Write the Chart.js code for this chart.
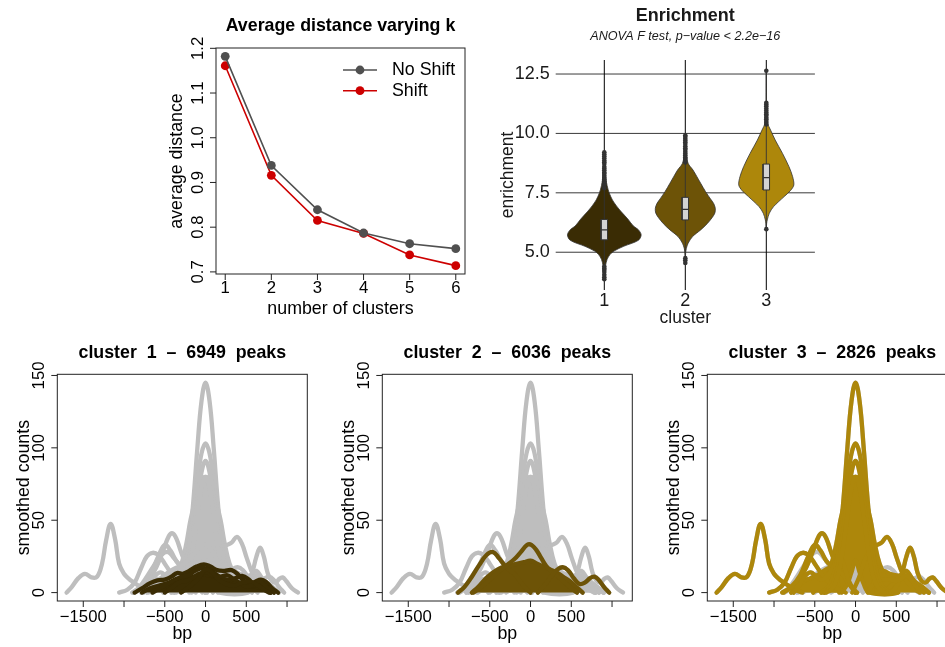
<!DOCTYPE html>
<html lang="en">
<head>
<meta charset="UTF-8" />
<title>Peak clustering</title>
<script src="https://cdn.jsdelivr.net/npm/chart.js"></script>
<style>
  html, body { margin: 0; padding: 0; background: #fff; overflow: hidden; }
  body { width: 945px; height: 647px; position: relative; }
  canvas { position: absolute; left: 0; top: 0; }
</style>
</head>
<body>
<canvas id="kChart" width="975" height="647"></canvas>
<canvas id="violinChart" width="975" height="647"></canvas>
<canvas id="profile1" width="975" height="647"></canvas>
<canvas id="profile2" width="975" height="647"></canvas>
<canvas id="profile3" width="975" height="647"></canvas>

<script>
// ---- average distance vs k ----
const kValues = [1, 2, 3, 4, 5, 6];
const distNoShift = [1.182, 0.938, 0.839, 0.787, 0.763, 0.752];
const distShift = [1.161, 0.916, 0.815, 0.786, 0.738, 0.714];
const distTicks = [0.7, 0.8, 0.9, 1.0, 1.1, 1.2];
const distTickLabels = ['0.7', '0.8', '0.9', '1.0', '1.1', '1.2'];

// ---- enrichment violins ----
const clusterIds = [1, 2, 3];
const clusterTickLabels = ['1', '2', '3'];
const enrichTicks = [5, 7.5, 10, 12.5];
const enrichTickLabels = ['5.0', '7.5', '10.0', '12.5'];

// density outline: enrichment level and half width
const violin1Levels = [3.85, 4.2, 4.45, 4.7, 4.9, 5.05, 5.25, 5.5, 5.73, 5.95, 6.1, 6.4, 6.7, 6.95, 7.2, 7.5, 7.8, 8.1, 8.6, 9.2];
const violin1Widths = [0, 0.008, 0.016, 0.035, 0.07, 0.12, 0.24, 0.42, 0.455, 0.42, 0.36, 0.29, 0.21, 0.15, 0.1, 0.06, 0.035, 0.02, 0.008, 0];
const violin2Levels = [4.5, 4.95, 5.15, 5.38, 5.66, 5.94, 6.2, 6.45, 6.65, 6.85, 7.05, 7.25, 7.55, 7.9, 8.2, 8.46, 8.74, 9.2, 9.9];
const violin2Widths = [0, 0.004, 0.012, 0.035, 0.09, 0.19, 0.27, 0.33, 0.365, 0.37, 0.35, 0.31, 0.25, 0.19, 0.14, 0.095, 0.035, 0.01, 0];
const violin3Levels = [5.95, 6.2, 6.36, 6.64, 6.92, 7.34, 7.6, 7.83, 8.18, 8.6, 9.16, 9.72, 10.14, 10.43, 10.8, 12.65];
const violin3Widths = [0, 0.004, 0.012, 0.037, 0.09, 0.22, 0.3, 0.34, 0.325, 0.28, 0.2, 0.11, 0.053, 0.015, 0.004, 0];

const boxQ1 = [5.52, 6.36, 7.62];
const boxMedian = [5.94, 6.80, 8.14];
const boxQ3 = [6.38, 7.31, 8.71];
const whiskerLow = [4.42, 4.9, 6.0];
const whiskerHigh = [7.66, 8.75, 10.34];
const outliers1 = [7.69, 7.75, 7.84, 7.9, 7.99, 8.07, 8.13, 8.22, 8.3, 8.36, 8.45, 8.52, 8.6, 8.71, 8.79, 8.86, 8.95, 9.04, 9.12, 9.21, 4.4, 4.32, 4.25, 4.17, 4.05, 3.95, 3.86];
const outliers2 = [8.78, 8.85, 8.93, 9.0, 9.08, 9.15, 9.23, 9.31, 9.38, 9.46, 9.55, 9.63, 9.7, 9.78, 9.86, 9.92, 4.75, 4.66, 4.55];
const outliers3 = [10.38, 10.45, 10.52, 10.6, 10.66, 10.74, 10.81, 10.88, 10.96, 11.05, 11.14, 11.22, 11.29, 12.64, 5.97];

// ---- smoothed count profiles, [bp, counts] ----
const peakCounts = [6949, 6036, 2826];
const profileXTicks = [-1500, -1000, -500, 0, 500, 1000];
const profileXLabels = ['\u22121500', '', '\u2212500', '0', '500', ''];
const profileYTicks = [0, 50, 100, 150];
const profileYLabels = ['0', '50', '100', '150'];

// bands: outlines of areas where many profiles overlap
const c1Band = [[-780, 0], [-680, 3], [-560, 5], [-440, 7], [-320, 8.5], [-200, 10], [-90, 12], [0, 12.5], [100, 11], [220, 9], [340, 8], [460, 6], [580, 4.5], [700, 3], [800, 0]];
const c1Profiles = [
  [[-870, 0], [-780, 3], [-680, 6.5], [-590, 8.5], [-500, 9], [-420, 11], [-350, 13.5], [-280, 13], [-200, 15], [-110, 18], [-20, 19.5], [60, 18], [140, 15.5], [230, 15], [320, 15.5], [400, 12.5], [470, 8], [540, 6], [610, 7.5], [680, 9], [750, 7], [820, 3], [890, 0]],
  [[-650, 0], [-560, 3], [-470, 6], [-380, 9], [-290, 11], [-210, 12], [-130, 15], [-40, 17], [40, 16], [120, 13], [200, 10], [290, 9], [370, 10], [450, 11.5], [530, 9], [600, 5], [680, 5.5], [760, 4], [840, 0]],
  [[-500, 0], [-420, 3], [-330, 7], [-240, 8], [-160, 10], [-80, 13], [10, 14], [90, 12], [180, 11], [270, 12], [350, 9], [440, 6], [520, 4], [590, 6], [660, 8], [730, 5], [800, 0]],
  [[-300, 0], [-200, 4], [-100, 9], [0, 16], [80, 14], [160, 9], [250, 6], [350, 5], [460, 7], [560, 7.5], [640, 5], [720, 2], [780, 0]]
];

const c2Band = [[-720, 0], [-640, 4], [-560, 9], [-480, 13], [-400, 16], [-320, 18], [-240, 19], [-160, 20], [-80, 21], [0, 22], [80, 20], [160, 18], [240, 16], [320, 14], [400, 11], [480, 8], [560, 4], [640, 0]];
const c2Profiles = [
  [[-890, 0], [-810, 4], [-720, 11], [-630, 19], [-540, 26], [-460, 28], [-390, 24], [-320, 19], [-270, 16], [-200, 13], [-130, 8], [-60, 3], [0, 0]],
  [[-700, 0], [-600, 4], [-480, 10], [-380, 15], [-290, 19], [-200, 23], [-120, 28], [-40, 33], [10, 33], [70, 29.5], [130, 24], [190, 18.5], [250, 15], [320, 12], [400, 8], [480, 4], [570, 0]],
  [[90, 0], [170, 5], [250, 11], [320, 15.5], [395, 17.5], [460, 15.5], [530, 10], [600, 6], [670, 7], [730, 10], [785, 11], [840, 8.5], [900, 4], [965, 0]]
];

const c3BandTop = [[-520, 0], [-440, 5], [-370, 11], [-295, 20], [-235, 34], [-185, 50], [-115, 66], [-50, 78], [0, 80], [50, 78], [115, 66], [185, 50], [235, 34], [295, 20], [370, 11], [440, 5], [520, 0]];
const c3BandHole = [[170, 0], [100, 6], [50, 14], [0, 22], [-50, 14], [-100, 6], [-170, 0]];
const c3LeftBand = [[-790, 0], [-710, 4], [-630, 8], [-550, 10], [-470, 12], [-390, 15], [-310, 17], [-240, 12], [-200, 0]];
const c3RightBand = [[200, 0], [260, 14], [340, 15], [420, 13], [500, 12], [580, 11], [660, 10], [740, 7], [820, 4], [900, 0]];
const c3Profiles = [
  [[-1705, 0], [-1640, 4], [-1560, 10], [-1480, 13], [-1400, 10.5], [-1330, 11], [-1270, 20], [-1220, 36], [-1165, 47.5], [-1110, 37], [-1060, 20], [-1000, 13], [-940, 9.5], [-880, 7], [-800, 4], [-720, 1.5], [-650, 0]],
  [[-1060, 0], [-960, 2], [-870, 7], [-790, 17], [-720, 25], [-650, 27.5], [-580, 26], [-500, 20], [-430, 14], [-360, 9], [-280, 5], [-200, 2], [-120, 0]],
  [[-880, 0], [-780, 4], [-680, 10], [-600, 18], [-520, 29], [-450, 39], [-405, 41], [-355, 37], [-300, 28], [-250, 21], [-190, 16], [-120, 10], [-50, 4], [20, 0]],
  [[-900, 0], [-790, 4], [-680, 12], [-580, 25], [-500, 33], [-430, 29], [-360, 22], [-290, 18], [-220, 16], [-150, 12], [-80, 6], [0, 0]],
  [[-760, 0], [-680, 6], [-610, 12], [-550, 14], [-480, 11], [-410, 9], [-340, 12], [-270, 18], [-210, 26], [-150, 20], [-80, 8], [0, 0]],
  [[-40, 0], [40, 10], [110, 22], [180, 29], [250, 32.5], [320, 34.5], [385, 38.5], [445, 34], [505, 24], [570, 14], [640, 7], [710, 3], [790, 0]],
  [[440, 0], [510, 5], [570, 13], [625, 25], [670, 31], [715, 25], [760, 14], [810, 8], [860, 7], [905, 9.5], [945, 10.5], [990, 8], [1060, 3], [1135, 0]],
  [[330, 0], [420, 4], [500, 9], [570, 13], [625, 15], [680, 11], [750, 6], [830, 2], [900, 0]],
  [[150, 0], [250, 8], [330, 9], [420, 9], [500, 8], [560, 9.5], [620, 12], [680, 9], [760, 3], [840, 0]],
  [[-400, 0], [-330, 2.7], [-270, 9], [-210, 28], [-150, 63], [-100, 100], [-50, 132], [0, 145], [50, 132], [100, 100], [150, 63], [210, 28], [270, 9], [330, 2.7], [400, 0]],
  [[-420, 0], [-350, 3], [-300, 7], [-250, 16], [-200, 32], [-150, 53], [-100, 77], [-50, 96], [0, 103], [50, 96], [100, 77], [150, 53], [200, 32], [250, 16], [300, 7], [350, 3], [420, 0]],
  [[-380, 0], [-300, 4], [-250, 10], [-200, 23], [-150, 42], [-100, 64], [-50, 83], [0, 91], [50, 83], [100, 64], [150, 42], [200, 23], [250, 10], [300, 4], [380, 0]],
  [[-360, 0], [-300, 2], [-250, 6], [-200, 15], [-150, 32], [-100, 53], [-50, 72], [0, 80], [50, 72], [100, 53], [150, 32], [200, 15], [250, 6], [300, 2], [360, 0]]
];

// ---- styling ----
const FONT = '"Liberation Sans", Arial, Helvetica, sans-serif';
const clusterColors = ['#3a2c04', '#6d5307', '#ad870b'];
const profileGray = '#bebebe';
const CANVAS_W = 975, CANVAS_H = 647;

// R base-graphics style frame: box, ticks, labels, titles, optional grid and legend
const rFrame = {
  id: 'rFrame',
  beforeDatasetsDraw(chart, args, o) {
    if (!o.grid) return;
    const { ctx, chartArea: a, scales: { x, y } } = chart;
    ctx.save();
    ctx.lineWidth = 1;
    ctx.strokeStyle = o.grid.yColor;
    o.grid.y.forEach(v => {
      const py = y.getPixelForValue(v);
      ctx.beginPath(); ctx.moveTo(a.left, py); ctx.lineTo(a.right, py); ctx.stroke();
    });
    ctx.strokeStyle = o.grid.xColor;
    o.grid.x.forEach(v => {
      const px = x.getPixelForValue(v);
      ctx.beginPath(); ctx.moveTo(px, a.top); ctx.lineTo(px, a.bottom); ctx.stroke();
    });
    ctx.restore();
  },
  afterDatasetsDraw(chart, args, o) {
    const { ctx, chartArea: a, scales: { x, y } } = chart;
    const midX = (a.left + a.right) / 2, midY = (a.top + a.bottom) / 2;
    ctx.save();
    ctx.lineWidth = 1;
    ctx.strokeStyle = o.lineColor;
    ctx.fillStyle = o.textColor;
    if (o.box) ctx.strokeRect(a.left, a.top, a.right - a.left, a.bottom - a.top);

    ctx.font = o.tickFont;
    ctx.textBaseline = 'middle';
    o.xTicks.forEach((v, i) => {
      const px = x.getPixelForValue(v);
      if (o.tickLength) {
        ctx.beginPath(); ctx.moveTo(px, a.bottom); ctx.lineTo(px, a.bottom + o.tickLength); ctx.stroke();
      }
      if (o.xLabels[i]) {
        ctx.textAlign = 'center';
        ctx.fillText(o.xLabels[i], px, a.bottom + o.xLabelGap);
      }
    });
    o.yTicks.forEach((v, i) => {
      const py = y.getPixelForValue(v);
      if (o.tickLength) {
        ctx.beginPath(); ctx.moveTo(a.left, py); ctx.lineTo(a.left - o.tickLength, py); ctx.stroke();
      }
      if (o.rotateY) {
        ctx.save();
        ctx.translate(a.left - o.yLabelGap, py);
        ctx.rotate(-Math.PI / 2);
        ctx.textAlign = 'center';
        ctx.fillText(o.yLabels[i], 0, 0);
        ctx.restore();
      } else {
        ctx.textAlign = 'right';
        ctx.fillText(o.yLabels[i], a.left - o.yLabelGap, py);
      }
    });

    ctx.font = o.labelFont;
    ctx.textAlign = 'center';
    ctx.fillText(o.xTitle, midX, a.bottom + o.xTitleGap);
    ctx.save();
    ctx.translate(a.left - o.yTitleGap, midY);
    ctx.rotate(-Math.PI / 2);
    ctx.fillText(o.yTitle, 0, 0);
    ctx.restore();

    ctx.textBaseline = 'alphabetic';
    ctx.font = o.titleFont;
    ctx.fillText(o.title, midX, a.top - o.titleGap);
    if (o.subtitle) {
      ctx.font = o.subtitleFont;
      ctx.fillText(o.subtitle, midX, a.top - o.subtitleGap);
    }

    if (o.legend) {
      const L = o.legend;
      chart.data.datasets.forEach((ds, i) => {
        const ly = L.y[i];
        ctx.strokeStyle = ds.borderColor;
        ctx.fillStyle = ds.borderColor;
        ctx.lineWidth = ds.borderWidth;
        ctx.beginPath(); ctx.moveTo(L.x0, ly); ctx.lineTo(L.x1, ly); ctx.stroke();
        ctx.beginPath(); ctx.arc((L.x0 + L.x1) / 2, ly, ds.pointRadius, 0, Math.PI * 2); ctx.fill();
        ctx.fillStyle = o.textColor;
        ctx.font = o.labelFont;
        ctx.textAlign = 'left';
        ctx.textBaseline = 'middle';
        ctx.fillText(ds.label, L.textX, ly);
      });
    }
    ctx.restore();
  }
};

function padFor(left, top, right, bottom) {
  return { left, top, right: CANVAS_W - right, bottom: CANVAS_H - bottom };
}

const baseOptions = {
  responsive: false,
  animation: false,
  events: [],
  devicePixelRatio: 1
};

// ---- average distance chart ----
function distSeries(label, values, color) {
  return {
    label,
    data: kValues.map((k, i) => ({ x: k, y: values[i] })),
    showLine: true,
    borderColor: color,
    backgroundColor: color,
    borderWidth: 1.6,
    pointRadius: 4.4,
    pointBorderWidth: 0,
    pointBackgroundColor: color,
    tension: 0
  };
}

new Chart(document.getElementById('kChart'), {
  type: 'scatter',
  data: {
    datasets: [
      distSeries('No Shift', distNoShift, '#505050'),
      distSeries('Shift', distShift, '#cd0000')
    ]
  },
  options: {
    ...baseOptions,
    layout: { padding: padFor(216, 48, 465, 274) },
    scales: {
      x: { type: 'linear', min: 0.8, max: 6.2, display: false },
      y: { type: 'linear', min: 0.6953, max: 1.2007, display: false }
    },
    plugins: {
      legend: { display: false },
      tooltip: { enabled: false },
      rFrame: {
        box: true, tickLength: 6, lineColor: '#222', textColor: '#000',
        xTicks: kValues, xLabels: kValues.map(String),
        yTicks: distTicks, yLabels: distTickLabels, rotateY: true,
        tickFont: `16.7px ${FONT}`, labelFont: `17.8px ${FONT}`, titleFont: `bold 17.8px ${FONT}`,
        xLabelGap: 14, yLabelGap: 17.7, xTitleGap: 35.5, yTitleGap: 39, titleGap: 17,
        xTitle: 'number of clusters', yTitle: 'average distance', title: 'Average distance varying k',
        legend: { x0: 343, x1: 377, textX: 392, y: [70, 90.7] }
      }
    }
  },
  plugins: [rFrame]
});

// ---- violin chart ----
const BOX_HALF = 0.04;
const violinLevels = [violin1Levels, violin2Levels, violin3Levels];
const violinWidths = [violin1Widths, violin2Widths, violin3Widths];
const outlierSets = [outliers1, outliers2, outliers3];

function shapeSet(points, fillColor, lineColor, lineWidth, tension) {
  return {
    data: points,
    showLine: true,
    borderColor: lineColor,
    backgroundColor: fillColor,
    borderWidth: lineWidth,
    pointRadius: 0,
    tension,
    fill: fillColor ? 'shape' : false
  };
}

const violinSets = [];
clusterIds.forEach((c, i) => {
  const lv = violinLevels[i], w = violinWidths[i];
  const left = lv.map((y, j) => ({ x: c - w[j], y }));
  const right = lv.map((y, j) => ({ x: c + w[j], y })).reverse();
  violinSets.push(shapeSet(left.concat(right), clusterColors[i], '#333', 0.8, 0.3));
});
clusterIds.forEach((c, i) => {
  violinSets.push(shapeSet([{ x: c, y: whiskerLow[i] }, { x: c, y: boxQ1[i] }], null, '#333', 0.9, 0));
  violinSets.push(shapeSet([{ x: c, y: boxQ3[i] }, { x: c, y: whiskerHigh[i] }], null, '#333', 0.9, 0));
  violinSets.push(shapeSet([
    { x: c - BOX_HALF, y: boxQ1[i] }, { x: c + BOX_HALF, y: boxQ1[i] },
    { x: c + BOX_HALF, y: boxQ3[i] }, { x: c - BOX_HALF, y: boxQ3[i] },
    { x: c - BOX_HALF, y: boxQ1[i] }
  ], '#d3d3d3', '#333', 1, 0));
  violinSets.push(shapeSet([{ x: c - BOX_HALF, y: boxMedian[i] }, { x: c + BOX_HALF, y: boxMedian[i] }], null, '#333', 1.2, 0));
  violinSets.push({
    data: outlierSets[i].map(v => ({ x: c, y: v })),
    showLine: false,
    pointRadius: 2.3,
    pointBorderWidth: 0,
    pointBackgroundColor: '#333'
  });
});

new Chart(document.getElementById('violinChart'), {
  type: 'scatter',
  // first dataset ends up at the bottom of the stack
  data: { datasets: violinSets.slice().reverse() },
  options: {
    ...baseOptions,
    layout: { padding: padFor(555.7, 60, 814.9, 290) },
    scales: {
      x: { type: 'linear', min: 0.4, max: 3.6, display: false },
      y: { type: 'linear', min: 3.41, max: 13.09, display: false }
    },
    plugins: {
      legend: { display: false },
      tooltip: { enabled: false },
      rFrame: {
        box: false, tickLength: 0, lineColor: '#222', textColor: '#1a1a1a',
        grid: { x: clusterIds, y: enrichTicks, xColor: '#000', yColor: '#3a3a3a' },
        xTicks: clusterIds, xLabels: clusterTickLabels,
        yTicks: enrichTicks, yLabels: enrichTickLabels, rotateY: false,
        tickFont: `18px ${FONT}`, labelFont: `17.5px ${FONT}`, titleFont: `bold 18px ${FONT}`,
        subtitleFont: `italic 12.6px ${FONT}`,
        xLabelGap: 11, yLabelGap: 6, xTitleGap: 28, yTitleGap: 47.7, titleGap: 39, subtitleGap: 20,
        xTitle: 'cluster', yTitle: 'enrichment', title: 'Enrichment',
        subtitle: 'ANOVA F test, p\u2212value < 2.2e\u221216'
      }
    }
  },
  plugins: [rFrame]
});

// ---- smoothed count profiles ----
function curveSet(pairs, color, filled) {
  return {
    data: pairs.map(([x, y]) => ({ x, y })),
    showLine: true,
    borderColor: color,
    backgroundColor: color,
    borderWidth: 4.3,
    borderCapStyle: 'round',
    borderJoinStyle: 'round',
    pointRadius: 0,
    tension: 0.4,
    fill: filled ? 'shape' : false
  };
}

const clusterBands = [
  [c1Band],
  [c2Band],
  [c3BandTop.concat(c3BandHole), c3LeftBand, c3RightBand]
];
const clusterProfiles = [c1Profiles, c2Profiles, c3Profiles];

function layer(k, color) {
  return clusterBands[k].map(b => curveSet(b, color, true))
    .concat(clusterProfiles[k].map(p => curveSet(p, color, false)));
}

[0, 1, 2].forEach(k => {
  const off = 325 * k;
  // all peaks in grey, then this cluster's peaks on top in its own colour
  const sets = layer(2, profileGray).concat(layer(1, profileGray), layer(0, profileGray), layer(k, clusterColors[k]));
  new Chart(document.getElementById('profile' + (k + 1)), {
    type: 'scatter',
    data: { datasets: sets.reverse() },
    options: {
      ...baseOptions,
      layout: { padding: padFor(57.3 + off, 374.3, 307.3 + off, 601) },
      scales: {
        x: { type: 'linear', min: -1818.6, max: 1248.6, display: false },
        y: { type: 'linear', min: -5.8, max: 150.8, display: false }
      },
      plugins: {
        legend: { display: false },
        tooltip: { enabled: false },
        rFrame: {
          box: true, tickLength: 6, lineColor: '#222', textColor: '#000',
          xTicks: profileXTicks, xLabels: profileXLabels,
          yTicks: profileYTicks, yLabels: profileYLabels, rotateY: true,
          tickFont: `16.7px ${FONT}`, labelFont: `17.8px ${FONT}`, titleFont: `bold 17.8px ${FONT}`,
          xLabelGap: 16.5, yLabelGap: 18, xTitleGap: 33, yTitleGap: 33.5, titleGap: 16.3,
          xTitle: 'bp', yTitle: 'smoothed counts',
          title: `cluster  ${k + 1}  \u2013  ${peakCounts[k]}  peaks`
        }
      }
    },
    plugins: [rFrame]
  });
});
</script>
</body>
</html>
